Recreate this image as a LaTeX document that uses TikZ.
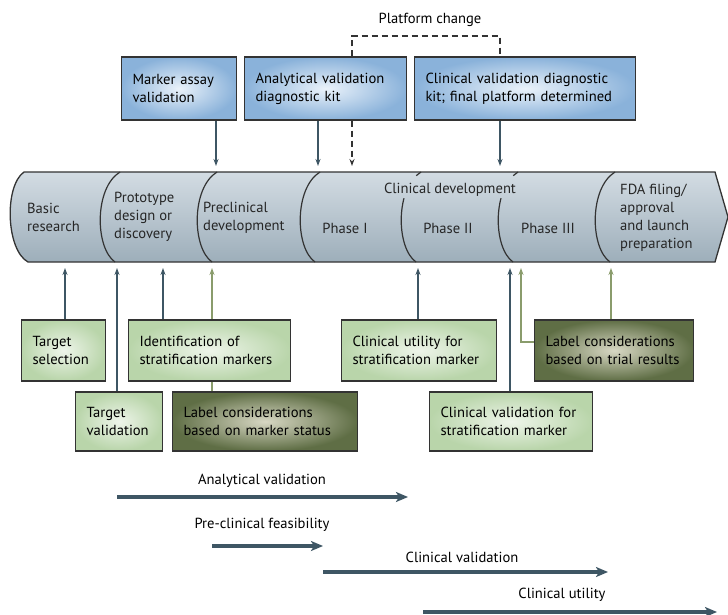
\documentclass[tikz,border=0pt]{standalone}
\usepackage{fontspec}
\setmainfont{PT Sans}
\usepackage{xcolor}
\usepackage{tikz}
\usetikzlibrary{arrows.meta,positioning,backgrounds}
\definecolor{inkline}{HTML}{333333}
\definecolor{arrowblue}{HTML}{3E5664}
\definecolor{arrowgreen}{HTML}{8A9C6C}
\definecolor{tubetop}{HTML}{D3DCE3}
\definecolor{tubebot}{HTML}{9DAEBA}
\definecolor{bluein}{HTML}{EAF2FA}
\definecolor{blueout}{HTML}{8AB2DA}
\definecolor{greenin}{HTML}{EEF5EA}
\definecolor{greenout}{HTML}{B9D5AA}
\definecolor{olivein}{HTML}{D8D8C4}
\definecolor{oliveout}{HTML}{5F6E45}
\newcommand{\cutline}[2][]{\draw[stagecut,#1] (#2,172) .. controls (#2-26,188) and (#2-25,248) .. (#2-5,262);}
\tikzset{
  every picture/.style = {
    x = 1pt,
    y = -1pt,
    font = \fontsize{14.6}{18}\selectfont,
  }
  ,
  tube/.style = {
    draw = inkline,
    line width = 1.3pt,
    top color = tubetop,
    bottom color = tubebot
  }
  ,
  stagecut/.style = {
    draw = inkline,
    line width = 1.2pt
  }
  , % cuts broken by the heading
  phasecut/.style = {
    dash pattern = on 6pt off 26pt on 120pt
  }
  , % labels in the pipeline
  stagetext/.style = {
    anchor = west,
    align = left,
    inner sep = 0pt,
    text = black!85
  }
  ,
  phasetext/.style = {
    inner sep = 0pt,
    text = black!85
  }
  ,
  box/.style = {
    rectangle,
    draw = inkline,
    line width = 1.3pt,
    inner xsep = 11pt,
    align = left,
    minimum height = 61pt
  }
  , % boxes above the pipeline
  assaybox/.style = {
    box,
    inner color = bluein,
    outer color = blueout,
    minimum height = 63pt
  }
  , % boxes below the pipeline
  markerbox/.style = {
    box,
    inner color = greenin,
    outer color = greenout
  }
  ,
  labelbox/.style = {
    box,
    inner color = olivein,
    outer color = oliveout
  }
  ,
  arrowdown/.style = {
    draw = arrowblue,
    line width = 1.4pt,
    -{Stealth[length=7pt,width=5pt]}
  }
  ,
  arrowup/.style = {
    arrowdown
  }
  ,
  arrowgreenup/.style = {
    arrowdown,
    draw = arrowgreen
  }
  ,
  platform/.style = {
    draw = inkline,
    line width = 1.2pt,
    dash pattern = on 6pt off 4pt
  }
  ,
  flow/.style = {
    draw = arrowblue,
    line width = 3.5pt,
    -{Stealth[length=12pt,width=10pt,inset=3pt]}
  }
}

\begin{document}
\begin{tikzpicture}
\useasboundingbox (0,0) rectangle (728,615);

% pipeline
\path[tube] (24,172) -- (715,172) -- (728,217) -- (715,262) -- (28,262) .. controls (6,250) and (4,186) .. cycle;
\cutline{120} \cutline{217} \cutline{320} \cutline{615}
\cutline[phasecut]{421} \cutline[phasecut]{518}

\node at (27,217) [stagetext] (basic) {Basic\\research};
\node at (114,217) [stagetext] (proto) {Prototype\\design or\\discovery};
\node at (203,218) [stagetext] (precl) {Preclinical\\development};
\node at (450,190) [phasetext] (clindev) {Clinical development};
\node at (345,228) [phasetext] (ph1) {Phase I};
\node at (448,228) [phasetext] (ph2) {Phase II};
\node at (548,228) [phasetext] (ph3) {Phase III};
\node at (620,218) [stagetext] (fda) {FDA filing/\\approval\\and launch\\preparation};

% assays and kits
\node at (179,88.5) [assaybox, text width=93pt] (mav) {Marker assay\\validation};
\node at (325.5,88.5) [assaybox, text width=140pt] (avk) {Analytical validation\\diagnostic kit};
\node at (525,88.5) [assaybox, text width=199pt] (cvk) {Clinical validation diagnostic\\kit; final platform determined};
\node at (430,20) (pfc) {Platform change};

% targets and markers
\node at (63.5,350.5) [markerbox, text width=62pt] (tsel) {Target\\selection};
\node at (119,421.5) [markerbox, text width=65pt, minimum height=59pt] (tval) {Target\\validation};
\node at (209.5,350.5) [markerbox, text width=140pt] (idsm) {Identification of\\stratification markers};
\node at (265,421.5) [labelbox, text width=163pt, minimum height=59pt] (lcms) {Label considerations\\based on marker status};
\node at (419,350.5) [markerbox, text width=133pt] (cusm) {Clinical utility for\\stratification marker};
\node at (511,421.5) [markerbox, text width=141pt, minimum height=59pt] (cvsm) {Clinical validation for\\stratification marker};
\node at (614,350.5) [labelbox, text width=137pt] (lctr) {Label considerations\\based on trial results};

\coordinate (in1) at (216,166);
\coordinate (in2) at (318,166);
\coordinate (in3) at (352,166);
\coordinate (in4) at (500,166);
\coordinate (pfr) at (500,36);
\coordinate (out1) at (65,268);
\coordinate (out2) at (117,268);
\coordinate (out3) at (163,268);
\coordinate (out4) at (212,268);
\coordinate (out5) at (418,268);
\coordinate (out6) at (510,268);
\coordinate (out7) at (521,268);
\coordinate (out8) at (611,268);

\begin{scope}[on background layer]
\path (mav.south -| in1) edge [arrowdown] (in1);
\path (avk.south -| in2) edge [arrowdown] (in2);
\path (avk.south -| in3) edge [arrowdown, platform] (in3);
\path (cvk.south -| in4) edge [arrowdown] (in4);
\draw [platform] (avk.north -| in3) |- (pfr) -- (cvk.north -| pfr);

\path (tsel.north -| out1) edge [arrowup] (out1);
\path (tval.north -| out2) edge [arrowup] (out2);
\path (idsm.north -| out3) edge [arrowup] (out3);
\path (lcms.north -| out4) edge [arrowgreenup] (out4);
\path (cusm.north -| out5) edge [arrowup] (out5);
\path (cvsm.north -| out6) edge [arrowup] (out6);
\draw [arrowgreenup] ([yshift=8.5pt]lctr.west) -| (out7);
\path (lctr.north -| out8) edge [arrowgreenup] (out8);
\end{scope}

% validation stages
\coordinate (av0) at (117,497);
\coordinate (av1) at (408,497);
\coordinate (pf0) at (212,546);
\coordinate (pf1) at (323,546);
\coordinate (cv0) at (323,572);
\coordinate (cv1) at (608,572);
\coordinate (cu0) at (423,612);
\coordinate (cu1) at (717,612);
\node at (262,481) (avl) {Analytical validation};
\node at (262,525) (pfl) {Pre-clinical feasibility};
\node at (462,557) (cvl) {Clinical validation};
\node at (562,595) (cul) {Clinical utility};
\path (av0) edge [flow] (av1);
\path (pf0) edge [flow] (pf1);
\path (cv0) edge [flow] (cv1);
\path (cu0) edge [flow] (cu1);
\end{tikzpicture}
\end{document}
